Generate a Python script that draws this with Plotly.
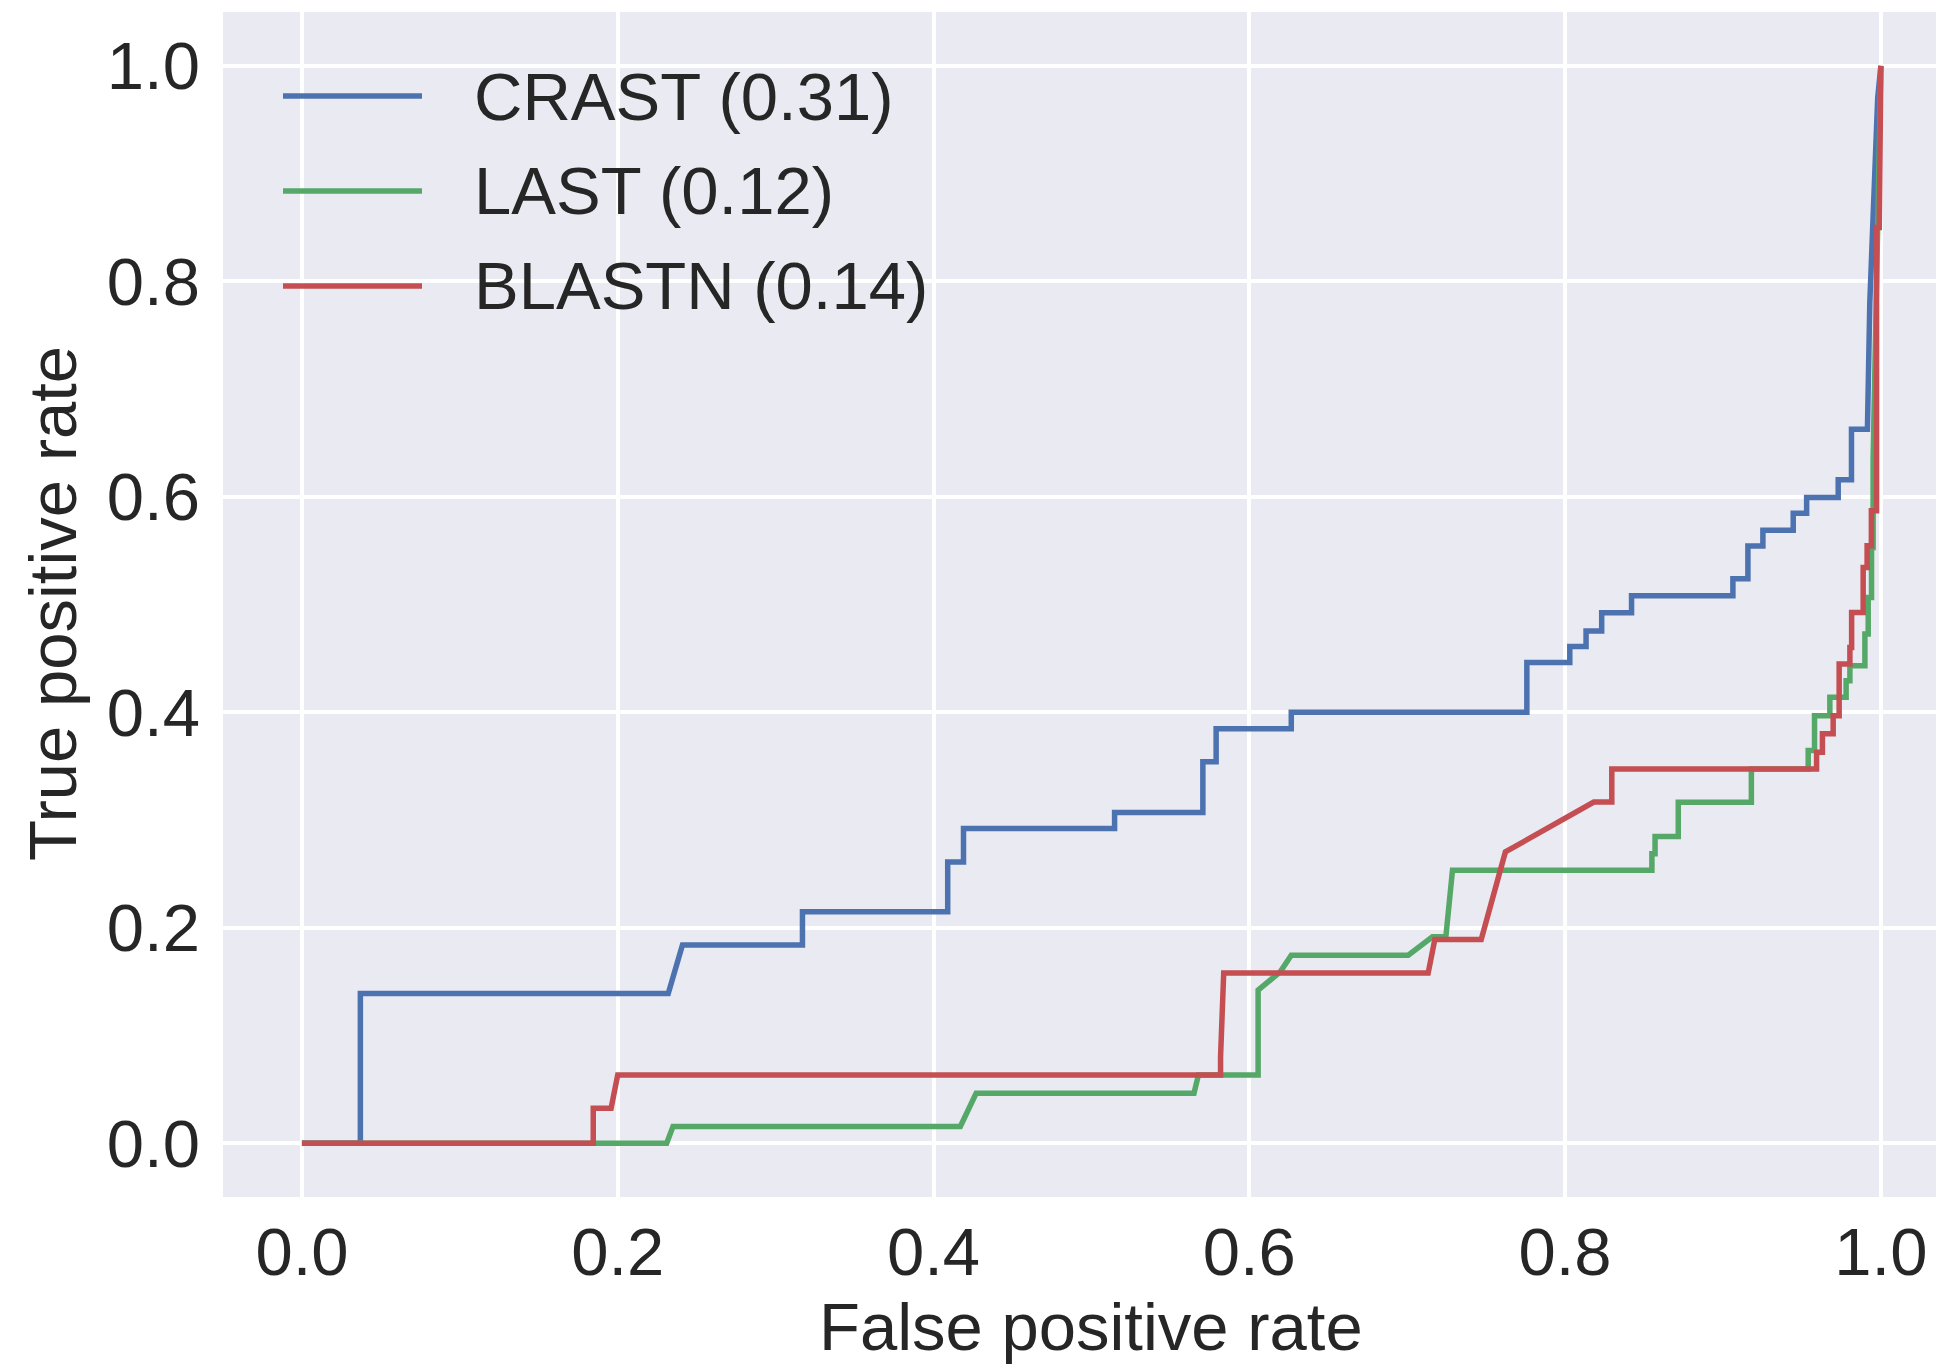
import plotly.graph_objects as go

# ---- data ----
crast_fpr = [0.0, 0.037, 0.037, 0.232, 0.241, 0.317, 0.317, 0.409, 0.409, 0.419, 0.419,
             0.5147, 0.5147, 0.5706, 0.5706, 0.579, 0.579, 0.6266, 0.6266, 0.7758, 0.7758,
             0.803, 0.803, 0.8133, 0.8133, 0.8232, 0.8232, 0.8421, 0.8421, 0.9063, 0.9063,
             0.9158, 0.9158, 0.9253, 0.9253, 0.9445, 0.9445, 0.953, 0.953, 0.973, 0.973,
             0.9814, 0.9814, 0.9915, 0.993, 0.9958, 0.998, 1.0]
crast_tpr = [0.0, 0.0, 0.139, 0.139, 0.184, 0.184, 0.2147, 0.2147, 0.261, 0.261, 0.292,
             0.292, 0.307, 0.307, 0.354, 0.354, 0.3846, 0.3846, 0.40, 0.40, 0.4462,
             0.4462, 0.461, 0.461, 0.4753, 0.4753, 0.4924, 0.4924, 0.5081, 0.5081, 0.5238,
             0.5238, 0.5543, 0.5543, 0.569, 0.569, 0.5848, 0.5848, 0.5993, 0.5993, 0.6157,
             0.6157, 0.6627, 0.6627, 0.78, 0.89, 0.97, 1.0]

last_fpr = [0.0, 0.231, 0.235, 0.417, 0.427, 0.565, 0.5678, 0.6056, 0.6056, 0.6196, 0.6266,
            0.7007, 0.716, 0.7245, 0.7287, 0.855, 0.855, 0.857, 0.857, 0.8717, 0.8717,
            0.918, 0.918, 0.954, 0.954, 0.958, 0.958, 0.9677, 0.9677, 0.978, 0.978,
            0.9804, 0.9804, 0.9899, 0.9899, 0.992, 0.992, 0.9941, 0.9941, 0.9951, 0.9951,
            1.0]
last_tpr = [0.0, 0.0, 0.0154, 0.0154, 0.0463, 0.0463, 0.0633, 0.0633, 0.142, 0.159, 0.1745,
            0.1745, 0.1915, 0.1915, 0.2533, 0.2533, 0.2686, 0.2686, 0.2847, 0.2847, 0.3165,
            0.3165, 0.3474, 0.3474, 0.3644, 0.3644, 0.3968, 0.3968, 0.4138, 0.4138, 0.4293,
            0.4293, 0.4432, 0.4432, 0.4726, 0.4726, 0.5066, 0.5066, 0.553, 0.553, 0.6349,
            1.0]

blastn_fpr = [0.0, 0.1845, 0.1845, 0.1958, 0.2, 0.5818, 0.5818, 0.5838, 0.7133, 0.7175,
              0.7469, 0.7622, 0.8182, 0.8296, 0.8296, 0.9593, 0.9593, 0.963, 0.963, 0.9698,
              0.9698, 0.9736, 0.9736, 0.9804, 0.9804, 0.9815, 0.9815, 0.9888, 0.9888, 0.9913,
              0.9913, 0.994, 0.994, 0.9973, 0.9973, 0.999, 1.0]
blastn_tpr = [0.0, 0.0, 0.0324, 0.0324, 0.0633, 0.0633, 0.080, 0.158, 0.158, 0.189,
              0.189, 0.2703, 0.3166, 0.3166, 0.3474, 0.3474, 0.3629, 0.3629, 0.380, 0.380,
              0.3968, 0.3968, 0.4448, 0.4448, 0.4602, 0.4602, 0.4926, 0.4926, 0.5344, 0.5344,
              0.5545, 0.5545, 0.587, 0.587, 0.85, 0.85, 1.0]

series_names = ["CRAST (0.31)", "LAST (0.12)", "BLASTN (0.14)"]
series_fpr = [crast_fpr, last_fpr, blastn_fpr]
series_tpr = [crast_tpr, last_tpr, blastn_tpr]
series_colors = ["#4C72B0", "#55A868", "#C44E52"]

tick_vals = [0.0, 0.2, 0.4, 0.6, 0.8, 1.0]
tick_text = ["0.0", "0.2", "0.4", "0.6", "0.8", "1.0"]

# ---- layout geometry (page pixels; the page body has an 8px margin) ----
OFF = 8
W, H = 1944 - OFF, 1364 - OFF
PL, PR, PT, PB = 223, 1944, 12, 1197          # plot area on the page
ML, MT = PL - OFF, PT - OFF
MR = 1944 - PR
MB = (H + OFF) - PB
PW, PH = PR - PL, PB - PT

def px_x(px):
    return (px - PL) / PW

def px_y(py):
    return (PB - py) / PH

FONT = "Liberation Sans, Arial, sans-serif"
TXT = "#262626"
FS = 67
LW = 5.5

fig = go.Figure()
for name, fx, ty, col in zip(series_names, series_fpr, series_tpr, series_colors):
    fig.add_trace(go.Scatter(x=fx, y=ty, mode="lines", name=name,
                             line=dict(color=col, width=LW), showlegend=False))

# manual legend (long sample lines as in the reference)
legend_rows = [96, 191, 286]
shapes = []
annotations = []
for name, col, ry in zip(series_names, series_colors, legend_rows):
    shapes.append(dict(type="line", xref="paper", yref="paper",
                       x0=px_x(283), x1=px_x(422), y0=px_y(ry), y1=px_y(ry),
                       line=dict(color=col, width=LW)))
    annotations.append(dict(xref="paper", yref="paper", x=px_x(472), y=px_y(ry),
                            text=name, showarrow=False, xanchor="left", yanchor="middle",
                            font=dict(family=FONT, size=FS, color=TXT)))

# axis titles
annotations.append(dict(xref="paper", yref="paper", x=px_x(1091), y=px_y(1326),
                        text="False positive rate", showarrow=False,
                        xanchor="center", yanchor="middle",
                        font=dict(family=FONT, size=FS, color=TXT)))
annotations.append(dict(xref="paper", yref="paper", x=px_x(52), y=px_y(604),
                        text="True positive rate", showarrow=False, textangle=-90,
                        xanchor="center", yanchor="middle",
                        font=dict(family=FONT, size=FS, color=TXT)))

fig.update_layout(
    width=W, height=H,
    margin=dict(l=ML, r=MR, t=MT, b=MB, pad=0),
    paper_bgcolor="white", plot_bgcolor="#EAEAF2",
    font=dict(family=FONT, size=FS, color=TXT),
    shapes=shapes, annotations=annotations,
    showlegend=False,
)
fig.update_xaxes(range=[-0.05, 1.04], tickvals=tick_vals, ticktext=tick_text,
                 showgrid=True, gridcolor="white", gridwidth=4, zeroline=False,
                 showline=False, ticks="", ticklabelstandoff=10,
                 tickfont=dict(family=FONT, size=FS, color=TXT))
fig.update_yaxes(range=[-0.05, 1.05], tickvals=tick_vals, ticktext=tick_text,
                 showgrid=True, gridcolor="white", gridwidth=4, zeroline=False,
                 showline=False, ticks="", ticklabelstandoff=22,
                 tickfont=dict(family=FONT, size=FS, color=TXT))

fig.write_html("out.html")
